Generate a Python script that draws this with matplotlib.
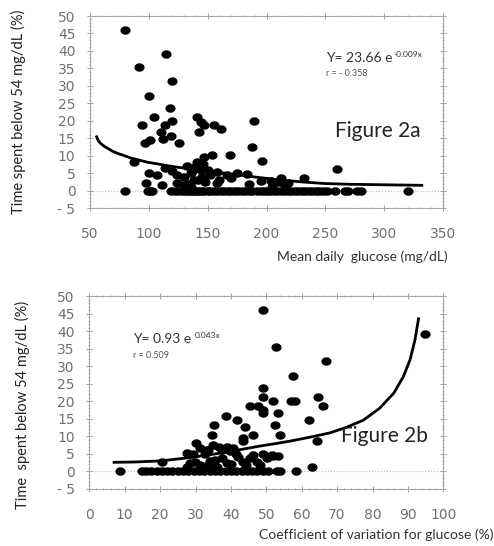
import numpy as np
import matplotlib
matplotlib.use('Agg')
import matplotlib.pyplot as plt
from matplotlib.ticker import MultipleLocator

# Figure 2a: mean daily glucose vs time below 54 mg/dL
glucose = [80, 115, 92, 120, 100, 118, 104, 94, 114, 120, 110, 112, 119, 97, 101, 126, 87,
           141, 144, 147, 143, 155, 161, 189, 188, 154, 169, 196, 259.5, 232,
           100, 107, 98, 114, 120, 111.5, 124, 132.7, 135.5, 138, 141, 146.8, 144, 158,
           166.6, 175, 183.6, 158, 124, 129.8, 212, 195, 203.4, 214.7, 140, 145, 150,
           133, 137, 142, 148, 152, 136, 130, 160, 170, 185, 205, 210, 218, 139, 146,
           79.5, 99, 101, 103, 119, 122, 125, 128, 131, 133, 135, 137, 139, 141, 143,
           145, 147, 150, 152, 155, 158, 161, 164, 167, 170, 173, 176, 179, 182, 185,
           188, 192, 195, 198, 200, 203, 206, 209, 212, 215, 218, 221, 224, 227, 230,
           233, 236, 239, 242, 245, 248, 251, 258, 267, 269, 277, 280, 320]
below_a = [46, 39.2, 35.4, 31.3, 27, 23.7, 21, 18.8, 18.8, 20, 16.9, 14.7, 15.6, 13.5, 14.5, 13.5, 8.1,
           21, 19.7, 18.8, 16.9, 18.8, 17.6, 20, 12.6, 10.2, 10.2, 8.5, 6.1, 3.5,
           5.1, 4.5, 2.3, 6.4, 5.6, 1.6, 4.5, 6.9, 5, 3.1, 8.3, 9.7, 5.9, 5.4,
           4.5, 4.9, 4.8, 2.1, 2.1, 3.9, 3.5, 2.6, 2.6, 1.8, 7, 4, 6,
           2, 5.5, 3, 2.5, 4.5, 1, 1.5, 3, 3.5, 2, 1, 2.5, 2.2, 6.5, 7.5,
           0, 0, 0, 0, 0, 0, 0, 0, 0, 0, 0, 0, 0, 0, 0,
           0, 0, 0, 0, 0, 0, 0, 0, 0, 0, 0, 0, 0, 0, 0,
           0, 0, 0, 0, 0, 0, 0, 0, 0, 0, 0, 0, 0, 0, 0,
           0, 0, 0, 0, 0, 0, 0, 0, 0, 0, 0, 0, 0]
# fitted curve as drawn in the figure
fit_a_x = [55.7, 57, 59, 62, 65, 69, 73, 79, 85, 92, 99, 108, 116, 126, 136, 150, 164,
           178, 192, 210, 229, 250, 270, 290, 310, 332]
fit_a_y = [15.4, 14.3, 13.5, 12.7, 12.1, 11.3, 10.7, 10.0, 9.3, 8.7, 8.1, 7.6, 7.1, 6.6, 6.2,
           5.6, 5.0, 4.4, 3.8, 3.1, 2.5, 2.0, 1.8, 1.7, 1.6, 1.5]

# Figure 2b: coefficient of variation vs time below 54 mg/dL
cv = [49.2, 94.8, 52.7, 67, 57.6, 49.2, 49.2, 52, 57.1, 58, 64.7, 65.9, 45.4, 47.7, 49, 49,
      53.4, 38.6, 41.8, 35.3, 52.5, 62.1, 44, 34.7, 46.3, 53.9, 43.5, 43.5, 64.2, 30.1, 62.8, 20.4,
      28, 29.4, 33.2, 32.7, 35, 36.5, 37.4, 38.8, 39.7, 40.6, 41.5, 35.5, 37.4, 38.8, 43.5,
      45.4, 46.3, 47.3, 49.2, 50.1, 51.5, 53.4, 52, 31.3, 33.6, 29.9, 44.4, 48.2, 27.6, 28.5,
      27.5, 31.3, 33.6, 36, 42, 44, 40, 34,
      8.7, 15, 16, 17.5, 19, 20.5, 22, 23.5, 25, 26.5, 28, 29.5, 31, 32.5, 34, 35.5, 37,
      38.5, 40, 41.5, 43, 44.5, 46, 47.5, 49, 50.5, 53, 54, 58.4]
below_b = [45.9, 39.3, 35.5, 31.4, 27.1, 23.8, 21.1, 20, 20, 20, 21.1, 18.7, 18.7, 18.7, 17.6, 16.8,
           16.8, 15.7, 14.7, 13.3, 13.3, 14.7, 12.7, 10.3, 10.3, 10.3, 9.5, 8.6, 8.6, 8.1, 1.4, 2.6,
           5.1, 5.1, 6.1, 5.1, 7.5, 7, 6.1, 7, 5.7, 6.6, 5.1, 3.2, 3.7, 2.3, 2.7,
           3.7, 4.7, 2.7, 5.1, 3.7, 4.7, 4.3, 4.3, 1.8, 1.8, 2.7, 1.8, 1.8, 1.4, 2.3,
           5.2, 6.7, 6.2, 1.2, 4.2, 0.8, 2.2, 3.0,
           0, 0, 0, 0, 0, 0, 0, 0, 0, 0, 0, 0, 0, 0, 0, 0, 0,
           0, 0, 0, 0, 0, 0, 0, 0, 0, 0, 0, 0]
fit_b_x = [7, 13, 20, 28, 35, 42, 48, 53, 57, 63, 68, 72.7, 77.4, 82, 86, 88.7, 90.6, 92, 93]
fit_b_y = [2.6, 2.7, 3.0, 3.9, 4.9, 6.1, 7.2, 8.0, 8.7, 9.9, 11, 12.6, 14.6, 18, 22.3, 27,
           31.8, 37.5, 43.5]

W, H = 494, 546
t = np.linspace(0, 2 * np.pi, 40)
dot = list(zip(1.2 * np.cos(t), np.sin(t)))


def style(ax, xstep, xminor):
    for s in ax.spines.values():
        s.set_color('#a8a8a8')
        s.set_linewidth(0.8)
    ax.xaxis.set_major_locator(MultipleLocator(xstep))
    ax.xaxis.set_minor_locator(MultipleLocator(xminor))
    ax.yaxis.set_minor_locator(MultipleLocator(1))
    ax.tick_params(which='both', direction='inout', top=True, right=True, color='#a0a0a0')
    ax.tick_params(which='major', length=5, width=0.7)
    ax.tick_params(which='minor', length=2, width=0.5)
    ax.tick_params(axis='y', pad=8, labelsize=10, labelcolor='#707070')
    ax.tick_params(axis='x', pad=11, labelsize=10, labelcolor='#707070')
    ax.set_ylim(-5, 50)
    ax.set_yticks(range(-5, 51, 5))
    ax.set_yticklabels(['- 5'] + [str(v) for v in range(0, 51, 5)])
    ax.axhline(0, color='#c0c0c0', lw=0.8, ls=':', zorder=0)


def ftext(px, py, s, **kw):
    fig.text(px / W, 1 - py / H, s, family='Lato', **kw)


fig = plt.figure(figsize=(4.94, 5.46), dpi=100)
ax1 = fig.add_axes([90 / W, 1 - 208 / H, 353 / W, 192 / H])
ax2 = fig.add_axes([89.3 / W, 1 - 489 / H, 354 / W, 193 / H])

style(ax1, 50, 10)
ax1.set_xlim(50, 350)
ax1.plot(glucose, below_a, ls='none', marker=dot, ms=7.3, mew=0, color='black')
ax1.plot(fit_a_x, fit_a_y, color='black', lw=2, solid_joinstyle='round')

style(ax2, 10, 2)
ax2.set_xlim(0, 100)
ax2.plot(cv, below_b, ls='none', marker=dot, ms=7.3, mew=0, color='black')
ax2.plot(fit_b_x, fit_b_y, color='black', lw=2, solid_joinstyle='round')

# axis titles
ftext(18, 111.5, 'Time spent below 54 mg/dL (%)', rotation=90, ha='center', va='center',
      fontsize=10.5, color='#222222')
ftext(22.7, 404.5, 'Time  spent below 54 mg/dL (%)', rotation=90, ha='center', va='center',
      fontsize=10.5, color='#222222')
ftext(448, 257, 'Mean daily  glucose (mg/dL)', ha='right', va='center', fontsize=10, color='#333333')
ftext(493, 535, 'Coefficient of variation for glucose (%)', ha='right', va='center',
      fontsize=10, color='#333333')

# equations
ftext(326, 58.3, 'Y= 23.66 e', ha='left', va='center', fontsize=10, color='#333333')
ftext(393, 54.3, '-0.009x', ha='left', va='center', fontsize=6, color='#333333')
ftext(326, 74, 'r = - 0.358', ha='left', va='center', fontsize=6.5, color='#555555')
ftext(133, 338.7, 'Y= 0.93 e', ha='left', va='center', fontsize=10, color='#333333')
ftext(195, 335.7, '0.043x', ha='left', va='center', fontsize=6, color='#333333')
ftext(133, 355, 'r = 0.509', ha='left', va='center', fontsize=6.5, color='#555555')

ftext(335, 131, 'Figure 2a', ha='left', va='center', fontsize=15, color='#222222')
ftext(341, 436, 'Figure 2b', ha='left', va='center', fontsize=15, color='#222222')

fig.savefig('out.png', dpi=100)
